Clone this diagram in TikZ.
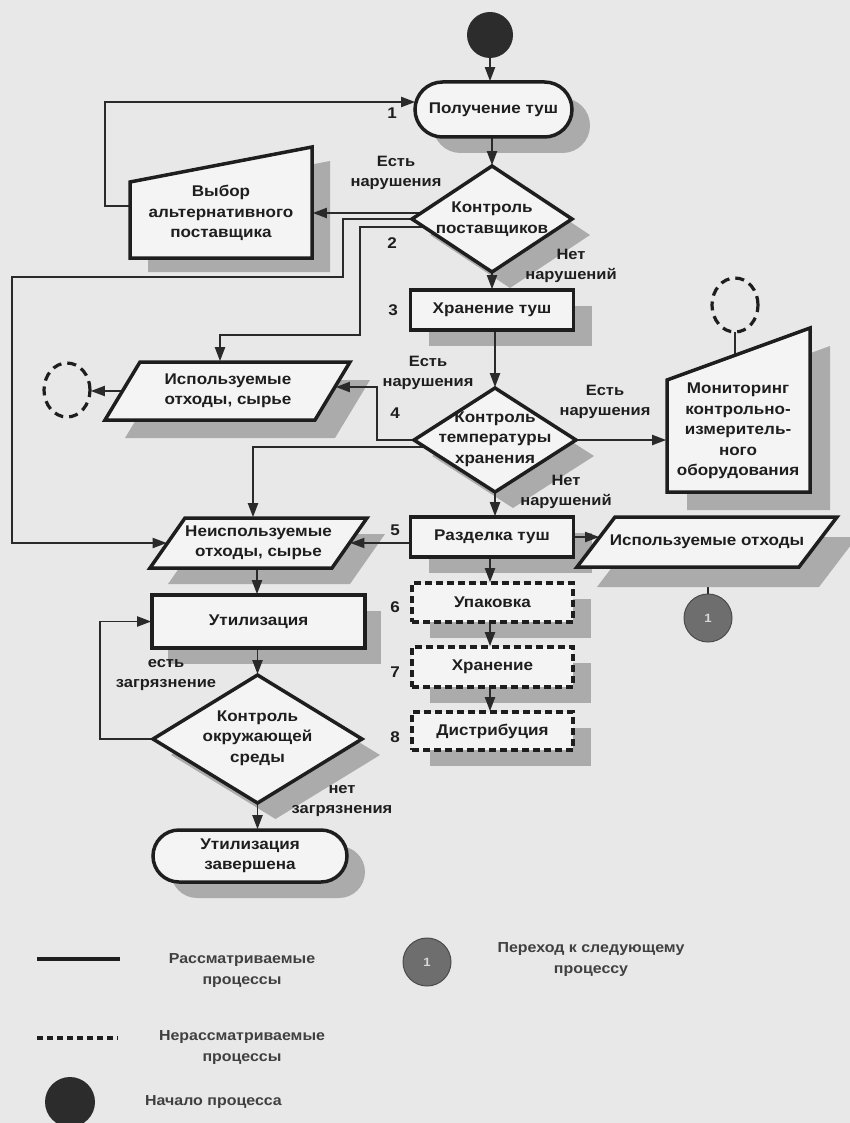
\documentclass[tikz,border=0pt]{standalone}
\usepackage{fontspec}
\setmainfont{Liberation Sans}[FakeStretch=1.1]
\usetikzlibrary{arrows.meta,shapes.geometric}

\definecolor{paper}{HTML}{E8E8E8}
\definecolor{boxfill}{HTML}{F4F4F4}
\definecolor{shadowc}{HTML}{ABABAB}
\definecolor{ink}{HTML}{1E1E1E}
\definecolor{linec}{HTML}{2A2A2A}
\definecolor{startc}{HTML}{2C2C2C}
\definecolor{nextc}{HTML}{6E6E6E}
\definecolor{nexttext}{HTML}{D8D8D8}

\pgfdeclarelayer{paperlayer}
\pgfdeclarelayer{shadowlayer}
\pgfdeclarelayer{linelayer}
\pgfsetlayers{paperlayer,shadowlayer,linelayer,main}

\tikzset{
  box/.style={draw=ink, line width=3.5pt, fill=boxfill, outer sep=0pt, line join=miter},
  dbox/.style={draw=ink, line width=3.2pt, fill=boxfill, outer sep=0pt, dash pattern=on 7pt off 4pt},
  shade/.style={fill=shadowc, draw=none},
  txt/.style={align=center, inner sep=0pt, text=ink, font=\fontsize{15.5}{20.5}\selectfont\bfseries},
  lbl/.style={align=center, inner sep=0pt, text=ink, font=\fontsize{15}{20}\selectfont\bfseries},
  num/.style={inner sep=0pt, text=ink, font=\fontsize{15.5}{18}\selectfont\bfseries},
  legtxt/.style={align=center, inner sep=0pt, text=ink!85, font=\fontsize{14.5}{21}\selectfont\bfseries},
  conn/.style={draw=linec, line width=1.9pt},
  arr/.style={conn, -{Triangle[length=14pt,width=10pt]}, shorten >=0.8pt},
  dring/.style={ellipse, draw=ink, line width=3.2pt, dash pattern=on 9pt off 6pt,
    minimum width=46pt, minimum height=54pt, inner sep=0pt, outer sep=0pt},
  nextcircle/.style={circle, fill=nextc, draw=ink!80, line width=1pt, minimum size=48pt,
    inner sep=0pt, text=nexttext, font=\fontsize{12}{12}\selectfont\bfseries},
  startcircle/.style={circle, fill=startc, inner sep=0pt},
}

\begin{document}
\begin{tikzpicture}[x=1pt,y=-1pt]
\useasboundingbox (0,0) rectangle (850,1123);
\begin{pgfonlayer}{paperlayer}
  \fill[paper] (0,0) rectangle (850,1123);
\end{pgfonlayer}

% ---------- outlines of the slanted shapes ----------
\def\altpath{(130,182) -- (312,147) -- (312,258) -- (130,258) -- cycle}
\def\monpath{(667,380) -- (810,328) -- (810,492) -- (667,492) -- cycle}
\def\usedApath{(140,362) -- (350,362) -- (315,420) -- (105,420) -- cycle}
\def\unusedpath{(185,518) -- (367,518) -- (332,568) -- (150,568) -- cycle}
\def\usedBpath{(615,517) -- (837,517) -- (799,567) -- (577,567) -- cycle}

% ---------- main column ----------
\node[startcircle, minimum size=46pt] (start) at (490,35) {};
\node[box, rounded corners=27.5pt, minimum width=157pt, minimum height=55pt, txt] (recv) at (493.5,109.5) {Получение туш};
\node[box, diamond, minimum width=160pt, minimum height=106pt, inner sep=0pt] (c1) at (492,219) {};
\node[txt] (c1t) at (492,219) {Контроль\\поставщиков};
\node[box, minimum width=163pt, minimum height=40pt, txt] (store) at (492,310) {Хранение туш};
\node[box, diamond, minimum width=162pt, minimum height=104pt, inner sep=0pt] (c2) at (495,440) {};
\node[txt] (c2t) at (495,439) {Контроль\\температуры\\хранения};
\node[box, minimum width=163pt, minimum height=40pt, txt] (cut) at (492,537) {Разделка туш};
\node[dbox, minimum width=161pt, minimum height=39pt, txt] (pack) at (492.5,602.5) {Упаковка};
\node[dbox, minimum width=161pt, minimum height=40pt, txt] (store2) at (492.5,667) {Хранение};
\node[dbox, minimum width=161pt, minimum height=38pt, txt] (dist) at (492.5,731) {Дистрибуция};

% ---------- left column ----------
\draw[box] \altpath;
\node[txt] (alt) at (221,213) {Выбор\\альтернативного\\поставщика};
\draw[box] \usedApath;
\node[txt] (usedA) at (228,391) {Используемые\\отходы, сырье};
\node[dring] (dc1) at (67,390) {};
\draw[box] \unusedpath;
\node[txt] (unused) at (258.5,543) {Неиспользуемые\\отходы, сырье};
\node[box, minimum width=213pt, minimum height=53pt, txt] (util) at (258.5,621.5) {Утилизация};
\node[box, diamond, minimum width=209pt, minimum height=128pt, inner sep=0pt] (c3) at (257.5,739) {};
\node[txt] (c3t) at (257.5,738) {Контроль\\окружающей\\среды};
\node[box, rounded corners=26pt, minimum width=194pt, minimum height=52pt, txt] (done) at (250,856) {Утилизация\\завершена};

% ---------- right column ----------
\draw[box] \monpath;
\node[txt] (mon) at (738,431) {Мониторинг\\контрольно-\\измеритель-\\ного\\оборудования};
\node[dring] (dc2) at (735,305) {};
\draw[box] \usedBpath;
\node[txt] (usedB) at (707,542) {Используемые отходы};
\node[nextcircle] (next) at (708,618) {1};

% ---------- connection points on the slanted shapes ----------
\coordinate (altR) at (312,213);
\coordinate (altL) at (130,206);
\coordinate (recvL) at (416,102);
\coordinate (usedAT) at (220,362);
\coordinate (usedAR) at (335,387);
\coordinate (usedAL) at (122,391);
\coordinate (unusedT) at (253,518);
\coordinate (unusedL) at (167.5,543);
\coordinate (unusedR) at (349.5,543);
\coordinate (unusedB) at (257,568);
\coordinate (monL) at (667,440);
\coordinate (monT) at (735,355);
\coordinate (usedBL) at (600,537);
\coordinate (usedBB) at (708,567);

% ---------- shadows ----------
\begin{pgfonlayer}{paperlayer}
  \draw[conn] (usedBB) -- (next.north);
\end{pgfonlayer}
\begin{pgfonlayer}{shadowlayer}
  \fill[shade, rounded corners=27.5pt] ([shift={(18,16)}]recv.north west) rectangle ([shift={(18,16)}]recv.south east);
  \fill[shade] ([shift={(18,16)}]c1.north) -- ([shift={(18,16)}]c1.east) -- ([shift={(18,16)}]c1.south) -- ([shift={(18,16)}]c1.west) -- cycle;
  \fill[shade] ([shift={(18,16)}]store.north west) rectangle ([shift={(18,16)}]store.south east);
  \fill[shade] ([shift={(18,16)}]c2.north) -- ([shift={(18,16)}]c2.east) -- ([shift={(18,16)}]c2.south) -- ([shift={(18,16)}]c2.west) -- cycle;
  \fill[shade] ([shift={(18,16)}]cut.north west) rectangle ([shift={(18,16)}]cut.south east);
  \fill[shade] ([shift={(18,16)}]pack.north west) rectangle ([shift={(18,16)}]pack.south east);
  \fill[shade] ([shift={(18,16)}]store2.north west) rectangle ([shift={(18,16)}]store2.south east);
  \fill[shade] ([shift={(18,16)}]dist.north west) rectangle ([shift={(18,16)}]dist.south east);
  \fill[shade, shift={(18,14)}] \altpath;
  \fill[shade, shift={(20,18)}] \usedApath;
  \fill[shade, shift={(18,16)}] \unusedpath;
  \fill[shade, shift={(20,18)}] \monpath;
  \fill[shade, shift={(20,20)}] \usedBpath;
  \fill[shade] ([shift={(16,16)}]util.north west) rectangle ([shift={(16,16)}]util.south east);
  \fill[shade] ([shift={(18,16)}]c3.north) -- ([shift={(18,16)}]c3.east) -- ([shift={(18,16)}]c3.south) -- ([shift={(18,16)}]c3.west) -- cycle;
  \fill[shade, rounded corners=26pt] ([shift={(18,16)}]done.north west) rectangle ([shift={(18,16)}]done.south east);
\end{pgfonlayer}

% ---------- connectors ----------
\begin{pgfonlayer}{linelayer}
  \draw[arr] (start.south) -- (start.south |- recv.north);
  \draw[arr] (c1.north |- recv.south) -- (c1.north);
  \draw[arr] (c1.center |- altR) -- (altR);
  \draw[arr] (c1.center) -- (343,219) -- (343,277) -- (12,277) -- (12,543) -- (unusedL);
  \draw[arr] ([yshift=-8pt]c1.center) -- (360,227) -- (360,335) -- (220,335) -- (usedAT);
  \draw[arr] (altL) -- (105,206) -- (105,102) -- (recvL);
  \draw[arr] (c1.south) -- (c1.south |- store.north);
  \draw[arr] (c2.north |- store.south) -- (c2.north);
  \draw[arr] (c2.center) -- (377,440) -- (377,387) -- (usedAR);
  \draw[arr] ([yshift=-7pt]c2.center) -- (253,447) -- (unusedT);
  \draw[arr] (c2.east) -- (monL);
  \draw[conn] (monT) -- (dc2.south);
  \draw[arr] (usedAL) -- (usedAL -| dc1.east);
  \draw[arr] (c2.south) -- (c2.south |- cut.north);
  \draw[arr] (cut.west |- unusedR) -- (unusedR);
  \draw[arr] (cut.east) -- (usedBL);
  \draw[arr] ([xshift=-2.5pt]pack.north |- cut.south) -- ([xshift=-2.5pt]pack.north);
  \draw[arr] ([xshift=-2.5pt]store2.north |- pack.south) -- ([xshift=-2.5pt]store2.north);
  \draw[arr] ([xshift=-2.5pt]dist.north |- store2.south) -- ([xshift=-2.5pt]dist.north);
  \draw[arr] (unusedB) -- (unusedB |- util.north);
  \draw[arr] (c3.north |- util.south) -- (c3.north);
  \draw[arr] (c3.west) -- (100,739) -- (100,621.5) -- (util.west);
  \draw[arr] (c3.south) -- (c3.south |- done.north);
\end{pgfonlayer}

% ---------- step numbers ----------
\node[num] (n1) at (392,113) {1};
\node[num] (n2) at (392,243) {2};
\node[num] (n3) at (393,310) {3};
\node[num] (n4) at (395,413) {4};
\node[num] (n5) at (395,530) {5};
\node[num] (n6) at (395,607) {6};
\node[num] (n7) at (395,672) {7};
\node[num] (n8) at (395,737) {8};

% ---------- branch labels ----------
\node[lbl] (l1) at (396,173) {Есть\\нарушения};
\node[lbl] (l2) at (571,266) {Нет\\нарушений};
\node[lbl] (l3) at (428,373) {Есть\\нарушения};
\node[lbl] (l4) at (605,402) {Есть\\нарушения};
\node[lbl] (l5) at (566,492) {Нет\\нарушений};
\node[lbl] (l6) at (166,675) {есть\\загрязнение};
\node[lbl] (l7) at (342,801) {нет\\загрязнения};

% ---------- legend ----------
\coordinate (lsA) at (37,959);
\coordinate (lsB) at (120,959);
\draw[ink, line width=3.5pt] (lsA) -- (lsB);
\node[legtxt] (leg1) at (242,971) {Рассматриваемые\\процессы};
\coordinate (ldA) at (37,1038);
\coordinate (ldB) at (118,1038);
\draw[ink, line width=4pt, dash pattern=on 6pt off 4pt] (ldA) -- (ldB);
\node[legtxt] (leg2) at (242,1048) {Нерассматриваемые\\процессы};
\node[startcircle, minimum size=50pt] (legstart) at (70,1102) {};
\node[legtxt, anchor=west] (leg3) at (145,1102) {Начало процесса};
\node[nextcircle] (legnext) at (427,962) {1};
\node[legtxt] (leg4) at (591,960) {Переход к следующему\\процессу};
\end{tikzpicture}
\end{document}
